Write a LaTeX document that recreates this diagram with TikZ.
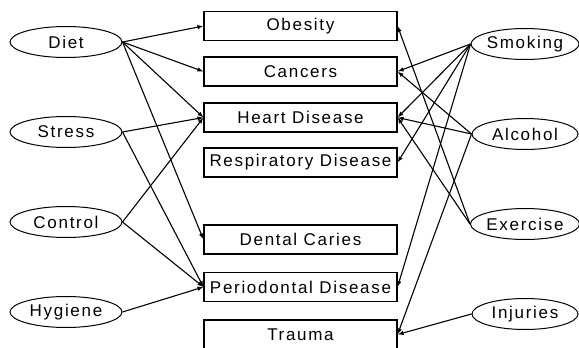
\documentclass[tikz,border=0pt]{standalone}
\usepackage{fontspec}
\setmainfont[LetterSpace=10]{Liberation Sans}
\usetikzlibrary{shapes.geometric,arrows.meta}
\begin{document}
\begin{tikzpicture}[x=1pt,y=-1pt,
    benh/.style={draw,line width=1.1pt,minimum width=193pt,minimum height=29pt,inner sep=0pt,font=\fontsize{17}{19}\selectfont},
    yeuto/.style={draw,ellipse,line width=1pt,minimum height=31pt,inner sep=0pt,font=\fontsize{17}{19}\selectfont},
    muiten/.style={-{Latex[length=6pt,width=4.5pt]},line width=1.1pt}]
    \useasboundingbox (0,0) rectangle (579,348);
    % Các ô bệnh ở giữa
    \foreach \ten/\y/\chu in {obesity/26/Obesity, cancers/71.5/Cancers,
        heart/117.5/Heart Disease, resp/162.5/Respiratory Disease,
        dental/239.5/Dental Caries, perio/287/Periodontal Disease,
        trauma/334.5/Trauma}
    \node[benh] (\ten) at (300.5,\y) {\chu};
    
    % Các yếu tố bên trái
    \foreach \ten/\y/\chu in {diet/42/Diet, stress/132/Stress,
        control/222/Control, hygiene/312/Hygiene}
    \node[yeuto,minimum width=112pt] (\ten) at (66,\y) {\chu};
    
    % Các yếu tố bên phải
    \foreach \ten/\y/\chu in {smoking/44/Smoking, alcohol/134/Alcohol,
        exercise/224/Exercise, injuries/314/Injuries}
    \node[yeuto,minimum width=106pt] (\ten) at (525,\y) {\chu};
    
    % Mũi tên từ bên trái
    \foreach \a/\b in {diet/obesity, diet/cancers, diet/heart, diet/dental,
        stress/heart, stress/perio, control/heart, control/perio, hygiene/perio}
    \draw[muiten] (\a.east) -- (\b.west);
    
    % Mũi tên từ bên phải
    \foreach \a/\b in {smoking/cancers, smoking/heart, smoking/resp, smoking/perio,
        alcohol/cancers, alcohol/heart, alcohol/trauma,
        exercise/obesity, exercise/heart, injuries/trauma}
    \draw[muiten] (\a.west) -- (\b.east);
\end{tikzpicture}
\end{document}
